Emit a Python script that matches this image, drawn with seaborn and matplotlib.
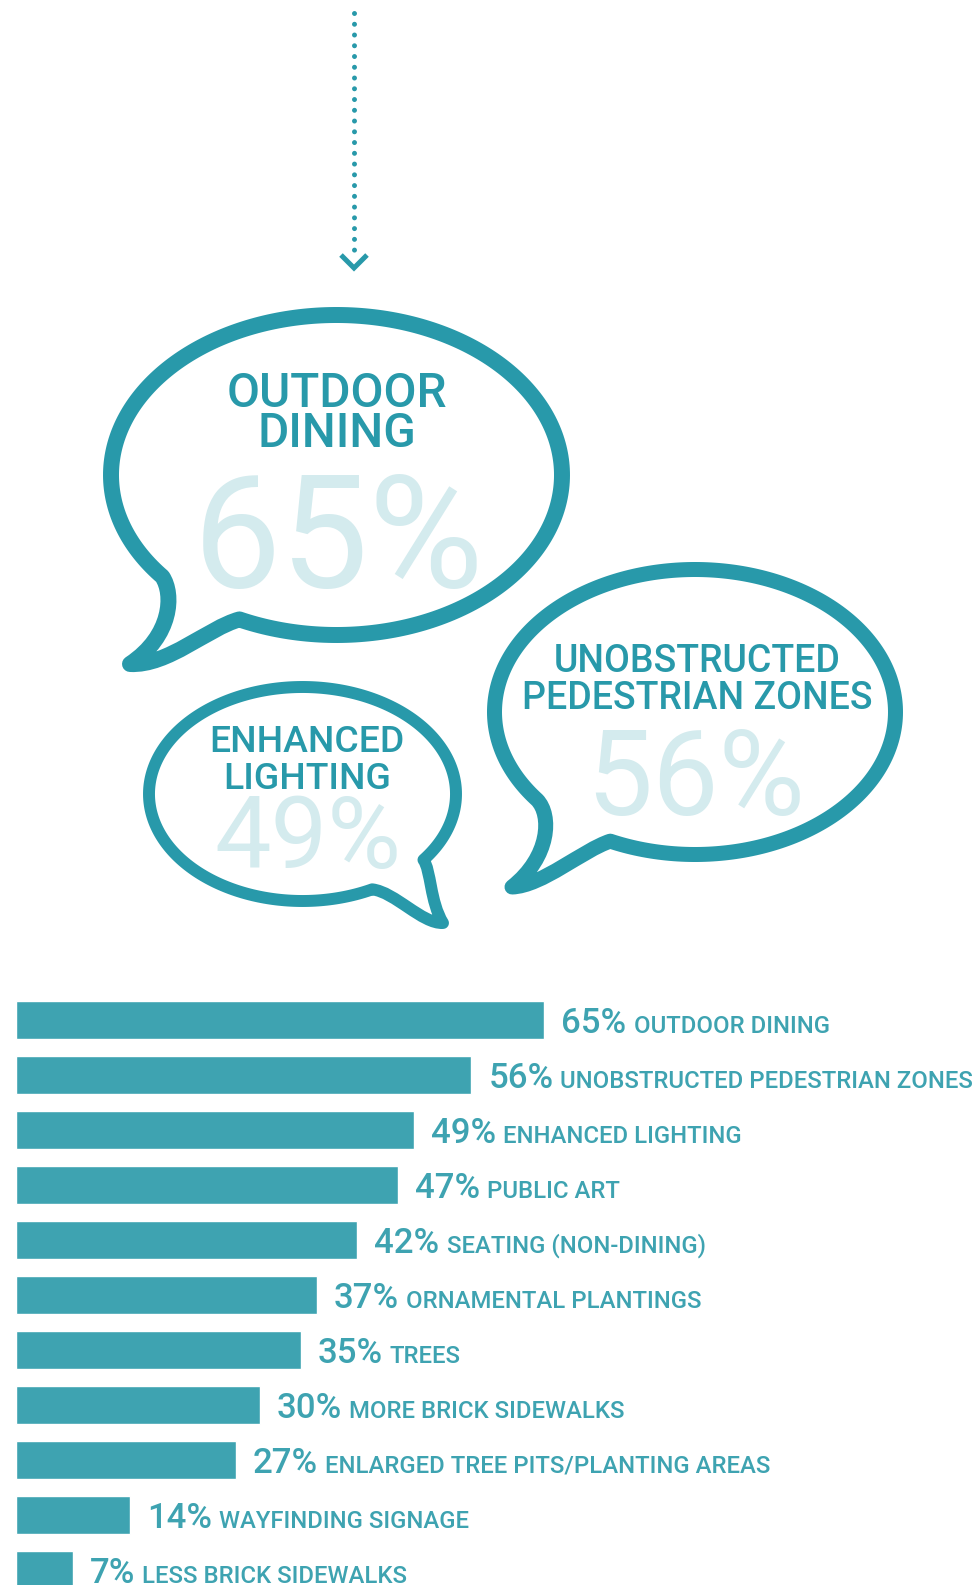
import numpy as np
import pandas as pd
import seaborn as sns
import matplotlib.pyplot as plt
from matplotlib.path import Path
from matplotlib.patches import PathPatch

# bar chart data
categories = ["OUTDOOR DINING", "UNOBSTRUCTED PEDESTRIAN ZONES", "ENHANCED LIGHTING",
              "PUBLIC ART", "SEATING (NON-DINING)", "ORNAMENTAL PLANTINGS", "TREES",
              "MORE BRICK SIDEWALKS", "ENLARGED TREE PITS/PLANTING AREAS",
              "WAYFINDING SIGNAGE", "LESS BRICK SIDEWALKS"]
values = [65, 56, 49, 47, 42, 37, 35, 30, 27, 14, 7]

# speech bubble callouts (top three)
bubble_titles = [["OUTDOOR", "DINING"], ["UNOBSTRUCTED", "PEDESTRIAN ZONES"], ["ENHANCED", "LIGHTING"]]
bubble_values = [65, 56, 49]

TEAL = "#2899aa"
BAR = "#3ea3b1"
LIGHT = "#d4ebee"

sns.set_theme(style="white")
plt.rcParams["font.family"] = ["Roboto", "DejaVu Sans"]

fig = plt.figure(figsize=(9.8, 15.85), dpi=100)
fig.patch.set_facecolor("white")

# overlay axes in pixel coordinates for the decorations
ax = fig.add_axes([0, 0, 1, 1])
ax.set_xlim(0, 980)
ax.set_ylim(1585, 0)
ax.axis("off")

# dotted arrow
ax.plot([354, 354], [13, 252], color=TEAL, lw=3.6, linestyle=(0, (0.001, 2.15)),
        dash_capstyle="round")
ax.plot([341, 354, 367], [255, 268, 255], color=TEAL, lw=3.6, solid_joinstyle="miter",
        solid_capstyle="butt")


def bubble(cx, cy, a, b, th_a, th_b, c1, c2, tip, c3, c4, lw):
    th = np.radians(np.linspace(th_a, th_b, 300))
    pts = np.column_stack([cx + a * np.cos(th), cy + b * np.sin(th)])
    start = pts[0]
    verts = list(pts)
    codes = [Path.MOVETO] + [Path.LINETO] * (len(pts) - 1)
    verts += [c1, c2, tip, c3, c4, start, start]
    codes += [Path.CURVE4] * 6 + [Path.CLOSEPOLY]
    p = PathPatch(Path(verts, codes), facecolor="white", edgecolor=TEAL, lw=lw,
                  joinstyle="round", zorder=2)
    ax.add_patch(p)


bubble(336.5, 475, 225.5, 160, 115.5, -219.4, (174, 594), (172, 636), (130, 664),
       (168, 666), (208, 628), 11.5)
bubble(695, 712, 200.5, 142.5, 115, -218, (552, 815), (550, 857), (512, 887),
       (542, 886), (583, 850), 10.8)
bubble(302.5, 794, 153.5, 107, 63, 398, (431, 870), (430, 902), (443, 923),
       (422, 924), (395, 892), 8.6)

# bubble texts
title_pos = [(337, [407, 447], 34.5), (697, [672, 709], 27), (307, [752, 789], 26.8)]
num_pos = [(338, 587, 113), (696, 815, 85), (308, 868, 72.5)]
for lines, (x, ys, fs) in zip(bubble_titles, title_pos):
    for txt, y in zip(lines, ys):
        ax.text(x, y, txt, ha="center", va="baseline", fontsize=fs, color=TEAL,
                fontweight="medium", zorder=4)
for v, (x, y, fs) in zip(bubble_values, num_pos):
    ax.text(x, y, f"{v}%", ha="center", va="baseline", fontsize=fs, color=LIGHT,
            zorder=3)

# bar chart
px_per = 8.13
top_px = 1020 - 27.5
bax = fig.add_axes([16 / 980, 0, 1 - 16 / 980, (1585 - top_px) / 1585])
df = pd.DataFrame({"category": categories, "value": values})
sns.barplot(data=df, x="value", y="category", orient="h", color=BAR, width=0.7,
            saturation=1, ax=bax)
bax.set_xlim(0, (980 - 16) / px_per)
bax.set_ylim(10 + (1585 - 1570) / 55, -0.5)
bax.axis("off")

for i, (c, v) in enumerate(zip(categories, values)):
    t = bax.text(v + 17 / px_per, i + 13 / 55, f"{v}%", ha="left", va="baseline",
                 fontsize=25, color=BAR, fontweight="medium")
    bax.annotate(c, xy=(1, 0), xycoords=t, xytext=(5, 1.5), textcoords="offset points",
                 ha="left", va="bottom", fontsize=17.2, color=BAR, fontweight="medium")

fig.savefig("out.png", dpi=100, facecolor="white")
